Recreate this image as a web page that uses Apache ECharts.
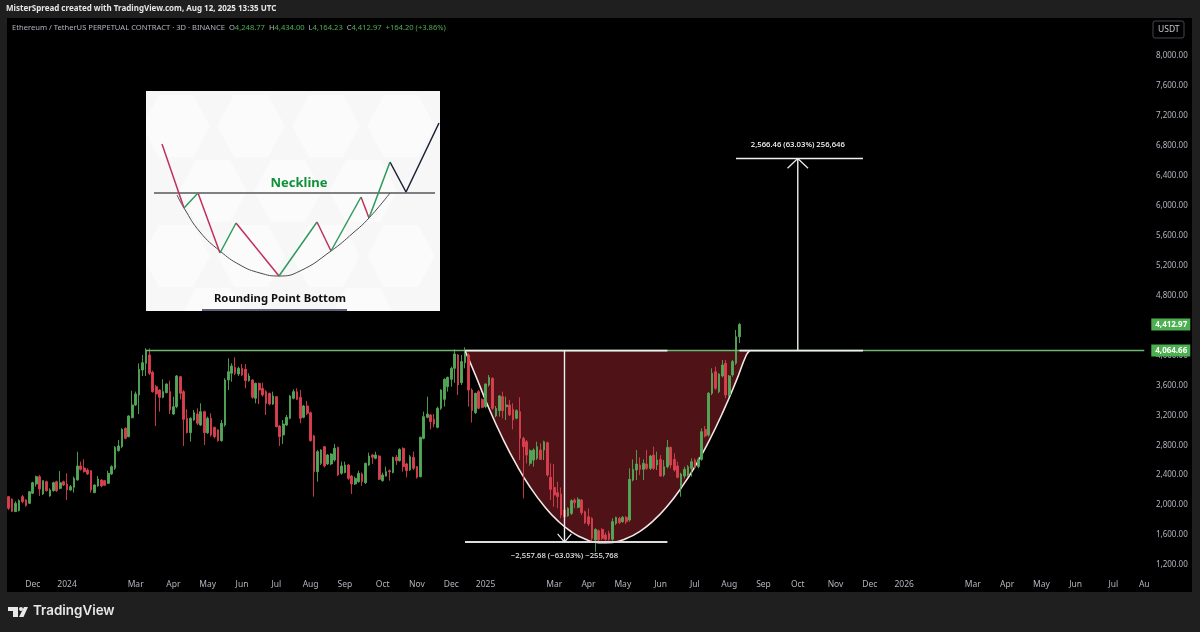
<!DOCTYPE html>
<html>
<head>
<meta charset="utf-8" />
<title>ETHUSDT 3D</title>
<style>
  html, body, #main { width: 100%; height: 100%; margin: 0; overflow: hidden; background: #1f1f1f; }
</style>
</head>
<body>
<div id="main"></div>
<script src="https://cdn.jsdelivr.net/npm/echarts@6/dist/echarts.min.js"></script>
<script>
// one row per 3D candle: open, close, low, high
var candles = [
[2113,1957,1935,2122],[2077,1917,1908,2091],[1913,2024,1913,2051],[1926,2060,1917,2077],[2113,2046,2024,2135],
[2069,1993,1979,2077],[2024,2180,2015,2189],[2158,2300,2149,2313],[2282,2380,2247,2394],[2380,2216,2122,2403],
[2149,2327,2135,2327],[2313,2193,2180,2327],[2122,2202,2113,2224],[2193,2300,2180,2313],[2313,2193,2175,2327],
[2224,2300,2211,2456],[2313,2269,2256,2327],[2282,2202,2069,2425],[2202,2247,2193,2269],[2238,2358,2167,2380],
[2336,2523,2327,2714],[2523,2478,2460,2581],[2496,2447,2434,2612],[2469,2416,2403,2492],[2460,2202,2167,2469],
[2167,2269,2158,2278],[2256,2349,2247,2389],[2336,2256,2238,2345],[2327,2265,2256,2336],[2291,2425,2282,2460],
[2416,2514,2403,2532],[2492,2772,2469,2790],[2728,2790,2714,2870],[2781,3013,2759,3026],[3026,2892,2879,3039],
[2915,3191,2906,3200],[3168,3338,3160,3529],[3338,3485,3324,3516],[3471,3814,3217,3894],[3805,3903,3725,4006],
[3894,4072,3725,4095],[4006,3761,3738,4095],[3774,3516,3502,3796],[3583,3485,3057,3605],[3538,3440,3249,3547],
[3440,3516,3427,3681],[3502,3618,3494,3627],[3516,3271,3217,3663],[3217,3315,3204,3449],[3315,3725,3293,3738],
[3716,3494,3413,3725],[3516,3146,2790,3538],[3160,2968,2959,3280],[2968,3160,2848,3173],[3137,3235,3128,3271],
[3217,3093,3070,3293],[3070,3249,3057,3360],[3249,2968,2803,3262],[2968,3160,2950,3182],[3160,2937,2915,3226],
[3039,2915,2892,3048],[3004,2861,2848,3013],[2861,3093,2848,3137],[3070,3672,3048,3694],[3672,3783,3538,3961],
[3761,3859,3649,3894],[3841,3761,3738,3974],[3752,3828,3725,3850],[3828,3738,3725,3885],[3814,3663,3560,3885],
[3663,3725,3649,3761],[3672,3440,3422,3681],[3427,3627,3360,3636],[3627,3538,3351,3636],[3560,3471,3449,3636],
[3516,3360,3204,3538],[3494,3351,3333,3502],[3351,3458,3338,3516],[3449,3048,3039,3458],[3057,2915,2790,3070],
[2937,3084,2817,3137],[3070,3173,3057,3204],[3160,3458,3146,3471],[3427,3516,3413,3547],[3516,3413,3404,3560],
[3440,3160,3093,3538],[3173,3324,3160,3338],[3324,3226,3204,3391],[3235,2861,2848,3249],[2924,2447,2113,2937],
[2447,2714,2313,2737],[2558,2737,2536,2745],[2781,2523,2505,2790],[2550,2670,2536,2683],[2550,2683,2532,2692],
[2603,2759,2581,2817],[2772,2403,2389,2781],[2425,2523,2407,2581],[2434,2536,2425,2581],[2536,2358,2336,2550],
[2389,2282,2149,2403],[2282,2358,2269,2380],[2313,2425,2300,2460],[2416,2313,2256,2434],[2300,2558,2282,2567],
[2536,2656,2523,2701],[2670,2639,2550,2683],[2625,2670,2612,2714],[2656,2345,2336,2665],[2327,2403,2313,2434],
[2389,2447,2380,2514],[2460,2447,2327,2478],[2434,2639,2425,2647],[2639,2594,2536,2670],[2594,2745,2581,2759],
[2759,2514,2447,2772],[2550,2460,2371,2567],[2469,2647,2460,2670],[2639,2492,2469,2714],[2514,2371,2354,2523],
[2380,2906,2371,2915],[2892,3182,2879,3249],[3173,3217,3160,3449],[3204,3115,3013,3217],[3146,3084,3039,3217],
[3039,3293,3026,3315],[3293,3538,3271,3547],[3413,3681,3315,3694],[3583,3707,3516,3716],[3681,3828,3583,3850],
[3828,4019,3636,4081],[4006,3605,3471,4019],[3636,3917,3605,4006],[3903,4019,3828,4108],[4006,3538,3315,4028],
[3538,3262,3102,3560],[3235,3494,3217,3502],[3516,3293,3280,3538],[3413,3306,3293,3427],[3315,3618,3293,3627],
[3605,3707,3583,3738],[3694,3293,3271,3707],[3191,3293,3173,3324],[3262,3458,3182,3471],[3449,3262,3160,3516],
[3315,3338,3137,3449],[3338,3204,3191,3404],[3280,3137,3013,3360],[3160,3262,3146,3280],[3248,2892,2602,3440],
[2892,2781,2090,2914],[2847,2669,2558,2870],[2558,2727,2527,2745],[2602,2736,2513,2758],[2625,2781,2602,2847],
[2736,2611,2602,2825],[2736,2847,2602,2861],[2834,2402,2380,2847],[2371,2211,2068,2558],[2237,2135,1979,2549],
[2166,2113,1957,2313],[2148,1868,1823,2237],[1934,1845,1779,2068],[1854,1957,1845,1970],[1890,2059,1868,2077],
[2068,2032,1957,2090],[1970,2077,1957,2104],[2068,1899,1868,2077],[1912,1765,1748,1926],[1845,1748,1721,1957],
[1823,1556,1512,1837],[1534,1676,1378,1690],[1658,1534,1480,1676],[1676,1556,1534,1690],[1601,1543,1525,1632],
[1623,1543,1525,1658],[1543,1779,1525,1823],[1756,1837,1734,1845],[1823,1765,1748,1845],[1779,1837,1765,1854],
[1837,1779,1748,1854],[1801,2344,1779,2491],[2335,2478,2317,2611],[2469,2549,2335,2736],[2536,2478,2402,2638],
[2478,2558,2335,2611],[2549,2491,2469,2736],[2491,2656,2469,2669],[2669,2491,2469,2781],[2536,2602,2469,2714],
[2611,2389,2380,2669],[2402,2513,2380,2602],[2513,2772,2491,2870],[2772,2536,2491,2781],[2611,2469,2447,2692],
[2522,2371,2357,2580],[2246,2415,2113,2433],[2389,2478,2357,2513],[2402,2513,2380,2536],[2491,2580,2380,2625],
[2602,2513,2491,2625],[2513,2611,2491,2638],[2611,2981,2594,3025],[3012,2923,2905,3057],[2936,3494,2914,3510],
[3494,3761,3471,3828],[3783,3561,3538,3850],[3516,3752,3494,3761],[3725,3872,3707,3939],[3895,3471,3427,3939],
[3471,3725,3449,3739],[3739,3917,3716,3939],[3895,4248.77,3872,4340],[4248.77,4412.97,4164.23,4434]
];

var slotCount = 332; // candles plus the empty future part of the time scale
var tickSlots = [7,17,37,48,58,68,78,88,98,109,119,129,139,159,169,179,190,200,210,220,230,241,251,261,281,291,301,311,322,331];
var tickTexts = ['Dec','2024','Mar','Apr','May','Jun','Jul','Aug','Sep','Oct','Nov','Dec','2025','Mar','Apr','May','Jun','Jul','Aug','Sep','Oct','Nov','Dec','2026','Mar','Apr','May','Jun','Jul','Au'];

var neckPrice = 4064.66;
var lastPrice = 4412.97;
var targetPrice = 6631.12;
var cupLowPrice = 1506.98;

// rounded bottom drawn on the chart: slot, price
var cupCurve = [[133,4064.66],[136,3742],[140,3291],[144,2890],[148,2540],[152,2239],[156,1991],[160,1792],[164,1644],[168,1546],[172,1498],[176,1502],[180,1553],[184,1650],[188,1795],[192,1988],[196,2229],[200,2512],[204,2846],[208,3225],[212,3653],[215,4006],[216,4064.66]];

// sketch in the top left, units of its own box (y runs downward)
var sketchNeck = [[8,102],[289,102]];
var sketchCurve = [[31,104],[38,117],[54,141],[74,160],[94,174],[114,182],[133,185],[154,180],[185,160],[207,142],[223,127],[244,102]];
var sketchRed = [[[16,53],[38,117]],[[52,102],[74,162]],[[90,132],[133,185]],[[171,131],[185,160]],[[215,106],[223,127]]];
var sketchGreen = [[[38,117],[52,102]],[[74,162],[90,132]],[[133,185],[171,131]],[[185,160],[215,106]],[[223,127],[244,71]]];
var sketchDark = [[244,71],[260,101],[293,32]];
var sketchUnderline = [[56,219],[201,219]];
var sketchHexes = [[30,35],[105,35],[180,35],[255,35],[67,100],[142,100],[217,100],[30,165],[105,165],[180,165],[255,165],[67,228],[217,228]];

var green = '#52a858', red = '#d9404f', fontFamily = '"Noto Sans", sans-serif';

var categories = [];
for (var i = 0; i < slotCount; i++) {
  var d = new Date(Date.UTC(2023, 10, 11 + i * 3));
  categories.push(d.toISOString().slice(0, 10));
}

function money(v) {
  return v.toLocaleString('en-US', { minimumFractionDigits: 2, maximumFractionDigits: 2 });
}

function segment(data, color, width, z) {
  return {
    type: 'line', data: data, showSymbol: false, symbol: 'none', silent: true, z: z || 4,
    lineStyle: { color: color, width: width }, xAxisIndex: 0, yAxisIndex: 0, clip: false
  };
}

function sketchLine(data, color, width, smooth) {
  return {
    type: 'line', data: data, symbol: 'none', silent: true, smooth: smooth || false, z: 4,
    lineStyle: { color: color, width: width }, xAxisIndex: 1, yAxisIndex: 1
  };
}

function sketchText(value, text, color, size) {
  return {
    type: 'scatter', symbolSize: 0, silent: true, z: 5, xAxisIndex: 1, yAxisIndex: 1, itemStyle: { opacity: 1 },
    data: [{ value: value, name: text }],
    label: {
      show: true, position: [0, 0], align: 'center', verticalAlign: 'middle', formatter: '{b}',
      color: color, fontSize: size, fontWeight: 'bold', fontFamily: fontFamily
    }
  };
}

var series = [
  {
    // faint honeycomb behind the sketch
    type: 'custom', xAxisIndex: 1, yAxisIndex: 1, data: sketchHexes, silent: true, z: 1, clip: true,
    renderItem: function (params, api) {
      var cx = api.value(0), cy = api.value(1);
      var corners = [[-34, 0], [-17, -31], [17, -31], [34, 0], [17, 31], [-17, 31]];
      return {
        type: 'polygon',
        shape: { points: corners.map(function (c) { return api.coord([cx + c[0], cy + c[1]]); }) },
        style: { fill: '#fbfbfb' },
        clipPath: {
          type: 'rect',
          shape: { x: params.coordSys.x, y: params.coordSys.y, width: params.coordSys.width, height: params.coordSys.height }
        }
      };
    }
  },
  {
    type: 'line', data: cupCurve, smooth: true, symbol: 'none', silent: true, z: 1,
    lineStyle: { color: '#f2e6e4', width: 1.6 },
    areaStyle: { origin: neckPrice, color: '#4e1217', opacity: 1 }
  },
  {
    type: 'candlestick', data: candles, barWidth: 2.2, z: 2, silent: true,
    itemStyle: { color: green, color0: red, borderColor: green, borderColor0: red, borderWidth: 0.9 }
  },
  segment([[40, neckPrice], [331, neckPrice]], '#6cb96f', 1.4, 3),
  segment([[133, neckPrice], [192, neckPrice]], '#eeeeee', 1.8),
  segment([[213, neckPrice], [249, neckPrice]], '#eeeeee', 1.8),
  segment([[133, cupLowPrice], [192, cupLowPrice]], '#dddddd', 1.8),
  segment([[162, neckPrice], [162, cupLowPrice]], '#eeeeee', 1.4),
  segment([[160, cupLowPrice + 110], [162, cupLowPrice], [164, cupLowPrice + 110]], '#eeeeee', 1.2),
  segment([[212, targetPrice], [249, targetPrice]], '#eeeeee', 1.4),
  segment([[230, neckPrice], [230, targetPrice]], '#eeeeee', 1.4),
  segment([[227, targetPrice - 130], [230, targetPrice], [233, targetPrice - 130]], '#eeeeee', 1.2),
  {
    type: 'scatter', symbolSize: 0, silent: true, z: 5, clip: false, itemStyle: { opacity: 1 },
    data: [{ value: [230, targetPrice], name: '2,566.46 (63.03%) 256,646' }],
    label: { show: true, position: 'top', distance: 10, formatter: '{b}', color: '#ffffff', fontSize: 7.7, fontWeight: 500, fontFamily: fontFamily }
  },
  {
    type: 'scatter', symbolSize: 0, silent: true, z: 5, clip: false, itemStyle: { opacity: 1 },
    data: [{ value: [162, cupLowPrice], name: '\u22122,557.68 (\u221263.03%) \u2212255,768' }],
    label: { show: true, position: 'bottom', distance: 10, formatter: '{b}', color: '#e6e6e6', fontSize: 7.7, fontWeight: 500, fontFamily: fontFamily }
  },
  {
    type: 'scatter', symbolSize: 0, silent: true, z: 6, clip: false, itemStyle: { opacity: 1 },
    data: [lastPrice, neckPrice].map(function (p) { return { value: [331, p], name: money(p) }; }),
    label: {
      show: true, position: 'right', distance: 7, formatter: '{b}', color: '#ffffff', fontSize: 8, fontWeight: 'bold',
      fontFamily: fontFamily, backgroundColor: '#4cb050', padding: [2, 4, 2, 4], width: 31, align: 'left'
    }
  },
  sketchLine(sketchNeck, '#55585c', 1.5),
  sketchLine(sketchCurve, '#4a4a4a', 1, 0.5),
  sketchLine(sketchDark, '#1b2138', 1.5),
  sketchLine(sketchUnderline, '#2a3050', 1.5),
  sketchText([153, 92], 'Neckline', '#0f9139', 13),
  sketchText([134, 208], 'Rounding Point Bottom', '#111111', 11.3)
];
sketchRed.forEach(function (s) { series.push(sketchLine(s, '#c0305c', 1.5)); });
sketchGreen.forEach(function (s) { series.push(sketchLine(s, '#2f9a5c', 1.5)); });

var option = {
  animation: false,
  backgroundColor: '#1f1f1f',
  grid: [
    { left: 7, width: 1139, top: 56, bottom: 67 },
    { left: 146, width: 294, top: 91, height: 220, show: true, backgroundColor: '#f7f7f7', borderWidth: 0 }
  ],
  xAxis: [
    {
      type: 'category', data: categories, gridIndex: 0,
      axisLine: { show: false }, axisTick: { show: false }, splitLine: { show: false },
      axisLabel: {
        color: '#b2b5be', fontSize: 8.5, fontFamily: fontFamily, margin: 15, hideOverlap: false,
        interval: function (index) { return tickSlots.indexOf(index) >= 0; },
        formatter: function (value, index) { return tickTexts[tickSlots.indexOf(index)] || ''; }
      }
    },
    { type: 'value', gridIndex: 1, min: 0, max: 294, show: false }
  ],
  yAxis: [
    {
      type: 'value', gridIndex: 0, position: 'right', min: 1200, max: 8000, interval: 400,
      axisLine: { show: false }, axisTick: { show: false }, splitLine: { show: false },
      axisLabel: { color: '#b2b5be', fontSize: 8, fontFamily: fontFamily, margin: 10, formatter: money }
    },
    { type: 'value', gridIndex: 1, min: 0, max: 220, inverse: true, show: false }
  ],
  series: series,
  graphic: [
    { type: 'rect', z: -10, shape: { x: 7, y: 18, width: 1185, height: 574 }, style: { fill: '#000000' } },
    {
      type: 'text', x: 6, y: 5,
      style: { text: 'MisterSpread created with TradingView.com, Aug 12, 2025 13:35 UTC', fill: '#e6e6e6', font: 'bold 8px "Noto Sans"' }
    },
    {
      type: 'text', x: 12, y: 23.5,
      style: {
        text: 'Ethereum / TetherUS PERPETUAL CONTRACT \u00b7 3D \u00b7 BINANCE  O{g|4,248.77}  H{g|4,434.00}  L{g|4,164.23}  C{g|4,412.97}  {g|+164.20 (+3.86%)}',
        fill: '#b2b5be', font: '7.6px "Noto Sans"',
        rich: { g: { fill: '#4caf50', font: '7.6px "Noto Sans"' } }
      }
    },
    { type: 'rect', shape: { x: 1153, y: 21, width: 31, height: 17, r: 2 }, style: { fill: '#000000', stroke: '#434651', lineWidth: 1 } },
    { type: 'text', x: 1158, y: 25, style: { text: 'USDT', fill: '#c8c8c8', font: '8.5px "Noto Sans"' } },
    // TradingView mark
    { type: 'polygon', shape: { points: [[8, 607], [18, 607], [18, 617], [13, 617], [13, 611], [8, 611]] }, style: { fill: '#e8e8e8' } },
    { type: 'circle', shape: { cx: 21, cy: 609, r: 2 }, style: { fill: '#e8e8e8' } },
    { type: 'polygon', shape: { points: [[24, 607], [28, 607], [23.5, 617], [19, 617]] }, style: { fill: '#e8e8e8' } },
    { type: 'text', x: 33, y: 604, style: { text: 'TradingView', fill: '#e8e8e8', font: '600 13.4px Inter' } }
  ]
};

var chart = echarts.init(document.getElementById('main'));
chart.setOption(option);
</script>
</body>
</html>
